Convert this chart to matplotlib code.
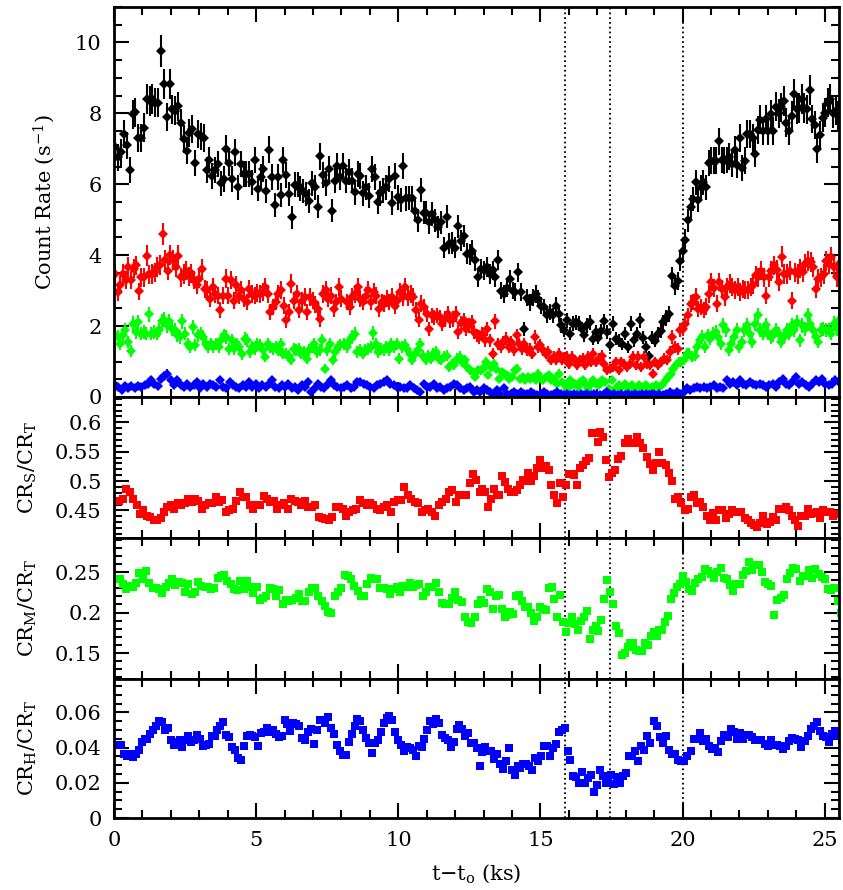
import numpy as np
import matplotlib
matplotlib.use("Agg")
import matplotlib.pyplot as plt
from matplotlib.ticker import MultipleLocator, FormatStrFormatter

plt.rcParams['font.family'] = ['DejaVu Serif']
plt.rcParams['mathtext.fontset'] = 'dejavuserif'

# count rates (s^-1)
total = [7.04, 6.76, 6.9, 7.42, 7.1, 6.41, 7.98, 8.03, 7.3, 7.3, 7.6, 8.4, 8.35, 8.4, 8.3, 8.3, 9.75, 8.83, 7.9, 8.83,
         8.12, 8.07, 8.2, 7.72, 7.28, 6.94, 7.44, 7.56, 6.6, 7.42, 7.35, 7.3, 6.4, 6.68, 6.24, 6.4, 6.57, 6.03, 6.15, 7.0,
         6.6, 6.15, 6.9, 5.92, 6.57, 6.29, 6.29, 6.29, 6.06, 6.68, 5.87, 6.2, 6.43, 5.81, 6.98, 6.2, 5.42, 6.2, 5.7, 6.68,
         6.27, 5.72, 5.07, 5.99, 5.99, 5.87, 5.81, 5.73, 5.54, 6.03, 5.92, 5.37, 6.79, 6.27, 6.03, 6.43, 5.26, 6.1, 6.52, 6.2,
         6.52, 6.1, 6.34, 6.1, 5.77, 6.29, 6.24, 5.74, 5.92, 5.68, 6.43, 6.2, 5.5, 5.74, 5.83, 5.92, 6.15, 5.47, 6.24, 5.63,
         5.56, 6.52, 5.6, 5.61, 5.6, 5.26, 4.98, 5.84, 5.2, 5.2, 4.93, 5.16, 4.98, 4.79, 4.93, 4.21, 5.09, 4.32, 4.34, 4.21,
         4.81, 4.41, 4.55, 4.04, 4.02, 4.13, 3.85, 3.38, 3.62, 3.57, 3.66, 3.47, 3.57, 3.38, 3.87, 3.0, 2.91, 3.08, 3.33, 3.0,
         2.96, 3.52, 2.96, 1.92, 2.8, 2.67, 2.8, 2.91, 2.77, 2.58, 2.54, 2.3, 2.39, 2.3, 2.58, 2.35, 2.02, 1.88, 2.16, 1.79,
         2.07, 2.11, 2.07, 1.92, 1.74, 2.02, 2.11, 1.64, 1.83,
         1.67, 1.85, 2.13, 1.83, 1.48, 2.07, 1.64, 1.59, 1.5, 1.79, 1.42, 2.07, 1.6, 1.79, 2.16, 1.67, 1.42, 1.15, 1.67, 1.59,
         1.79, 1.86, 2.11, 2.23, 2.35, 3.4, 3.14, 3.27, 3.83, 4.13, 4.43, 4.99, 5.35, 5.59, 6.06, 5.56, 5.92, 6.06, 5.92, 6.6,
         6.67, 6.67, 6.67, 7.21, 6.68, 6.67, 6.68, 6.78, 6.57, 6.97, 6.55, 7.3, 6.46, 6.67, 7.42, 7.42, 7.3, 6.86, 7.53, 7.82,
         7.5, 7.84, 7.5, 7.98, 7.5, 8.19, 8.0, 8.17, 8.35, 7.74, 7.5, 7.93, 8.54, 8.12, 8.15, 8.4, 8.15, 8.12, 8.65, 7.84,
         7.68, 6.99, 7.38, 7.88, 8.02, 8.3, 8.4, 8.0, 8.07, 7.93, 8.26]
soft = [3.46, 2.96, 3.15, 3.47, 3.3, 3.66, 3.3, 3.62, 3.71, 2.98, 3.38, 3.38, 3.99, 3.46, 3.47, 3.52, 3.66, 3.73, 4.6, 3.87,
        3.56, 4.01, 3.87, 3.66, 3.99, 3.38, 3.47, 3.56, 3.4, 3.49, 3.3, 3.15, 3.34, 3.62, 3.05, 3.01, 2.77, 3.1, 2.91, 2.86,
        2.44, 2.86, 3.34, 2.86, 3.3, 2.72, 3.15, 2.86, 3.01, 2.77, 2.68, 3.05, 2.91, 2.86, 2.93, 2.91, 2.96, 3.1, 2.91, 2.39,
        2.53, 2.68, 2.91, 3.02, 2.58, 2.16, 2.39, 3.2, 2.72, 2.91, 2.44, 2.72, 2.82, 2.39, 2.82, 2.72, 2.61, 2.48, 2.2, 2.91,
        3.01, 2.77, 2.86, 2.48, 2.68, 3.1, 2.77,
        2.68, 2.53, 2.82, 2.91, 3.1, 2.77, 2.68, 2.86, 3.01, 2.68, 2.96, 2.86, 2.48, 2.68, 2.63, 2.77, 2.68, 2.82, 2.58, 2.72,
        2.96, 2.82, 3.1, 2.82, 2.91, 2.82, 2.44, 2.18, 2.63, 2.53, 2.35, 1.92, 2.3, 2.25, 2.3, 2.25, 2.07, 2.2, 2.35, 2.16,
        2.2, 2.35, 1.83, 2.08, 2.16, 1.92, 2.02, 2.11, 1.83, 1.74, 1.69, 1.79, 1.6, 1.92, 1.6, 1.22, 2.14, 1.5, 1.42, 1.55,
        1.64, 1.42, 1.55, 1.32, 1.74, 1.5, 1.36, 1.5, 1.32, 1.36, 1.22, 1.69, 1.42, 1.46, 1.32, 1.22, 1.27, 1.05, 1.13, 1.04,
        1.22, 1.04, 1.11, 1.13, 0.94, 1.13, 1.04, 0.89, 1.04, 1.08, 0.89, 1.13, 0.99, 1.22, 0.99,
        1.08, 1.17, 0.94, 0.75, 0.8, 0.85, 0.99, 0.75, 0.99, 0.94, 0.85, 0.94, 1.13, 0.89, 1.13, 0.85, 1.13, 0.94, 0.89, 0.66,
        0.99, 0.89, 0.99, 1.08, 1.04, 1.27, 1.69, 1.42, 1.36, 1.88, 1.92, 2.07, 2.3, 2.63, 2.68, 2.82, 2.48, 2.53, 2.44, 2.55,
        2.91, 3.24, 3.08, 2.63, 3.24, 3.05, 2.82, 3.1, 3.2, 3.1, 3.01, 3.1, 2.96, 3.05, 3.01, 3.01, 3.1, 3.15, 3.43, 3.38,
        3.56, 3.38, 2.86, 3.38, 3.55, 3.71, 3.58, 3.24, 3.96, 3.47, 3.47, 3.56, 2.72, 3.52, 3.47, 3.62, 3.52, 3.75, 3.84, 3.8,
        3.66, 3.05, 3.34, 3.38, 3.47, 3.84, 3.75, 3.94, 3.66, 3.38, 3.75, 3.52]
medium = [1.74, 1.69, 1.5, 1.74, 1.88, 1.55, 1.29, 2.07, 1.83, 2.11, 1.79, 1.83, 1.79, 2.33, 1.79, 1.83, 1.79, 1.88, 2.14, 2.18,
          2.02, 2.14, 1.92, 1.88, 1.74, 1.69, 2.14, 1.79, 1.5, 1.42, 1.97, 1.46, 1.74, 1.79, 1.69, 1.5, 1.42, 1.5, 1.42, 1.5,
          1.42, 1.6, 1.74, 1.69, 1.36, 1.6, 1.36, 1.5, 1.42, 1.2, 1.64, 1.6, 1.27, 1.42, 1.36, 1.5, 1.46, 1.32, 1.13, 1.5,
          1.42, 1.36, 1.42, 1.32, 1.5, 1.22, 1.22, 1.17, 1.04, 1.36, 1.32, 1.36, 1.22, 1.27, 1.08, 1.32, 1.42, 1.5, 1.27, 1.32,
          1.6, 0.8, 1.32, 1.5, 1.04, 1.27, 1.42, 1.46,
          1.5, 1.42, 1.6, 1.69, 1.79, 1.27, 1.32, 1.22, 1.32, 1.36, 1.42, 1.81, 1.5, 1.27, 1.36, 1.32, 1.42, 1.32, 1.5, 1.42,
          1.5, 1.08, 1.42, 1.46, 1.36, 1.22, 1.04, 1.22, 1.32, 1.5, 1.17, 1.04, 1.17, 1.08, 1.22, 1.27, 1.08, 1.04, 1.13, 1.17,
          0.85, 0.94, 0.89, 1.08, 1.13, 0.99, 1.04, 0.85, 0.75, 0.71, 0.56, 0.75, 0.75, 0.8, 0.99, 0.61, 0.85, 0.94, 0.8, 0.52,
          0.71, 0.66, 0.61, 0.52, 0.56, 0.75, 0.8, 0.52, 0.56, 0.47, 0.56, 0.52, 0.56, 0.47, 0.66, 0.52, 0.47, 0.56, 0.61, 0.47,
          0.52, 0.38, 0.66, 0.42, 0.38, 0.23, 0.47, 0.33, 0.38, 0.28, 0.42, 0.47, 0.38, 0.23, 0.38, 0.47, 0.38,
          0.33, 0.47, 0.42, 0.23, 0.47, 0.23, 0.33, 0.28, 0.38, 0.23, 0.33, 0.23, 0.33, 0.28, 0.33, 0.23, 0.28, 0.33, 0.28, 0.33,
          0.47, 0.56, 0.66, 0.8, 0.89, 0.99, 0.99, 1.04, 1.22, 1.22, 1.13, 1.17, 1.42, 1.6, 1.69, 1.42, 1.74, 1.64, 1.79, 1.83,
          1.69, 1.5, 2.02, 1.88, 1.32, 1.5, 1.69, 1.88, 1.42, 1.55, 1.88, 2.02, 1.79, 1.55, 2.07, 2.3, 1.88, 1.79, 2.02, 1.79,
          1.69, 1.74, 1.88, 1.79, 1.55, 1.69, 1.88, 1.79, 2.02, 1.88, 2.11, 1.6, 2.02, 1.92, 2.3, 2.07, 1.88, 1.69, 1.55, 1.88,
          1.92, 1.88, 1.88, 1.79, 2.07, 1.92, 2.16, 2.02]
hard = [0.33, 0.28, 0.19, 0.30, 0.24, 0.30, 0.24, 0.30, 0.28, 0.33, 0.38, 0.49, 0.38, 0.30, 0.52, 0.58, 0.66, 0.47, 0.33, 0.47,
        0.33, 0.28, 0.38, 0.28, 0.33, 0.42, 0.24, 0.38, 0.28, 0.38, 0.33, 0.28, 0.47, 0.28, 0.24, 0.42, 0.33, 0.28, 0.24, 0.33,
        0.28, 0.42, 0.28, 0.38, 0.24, 0.33, 0.28, 0.38, 0.47, 0.28, 0.24, 0.33, 0.28, 0.38, 0.24, 0.28, 0.19, 0.33, 0.28, 0.42,
        0.14, 0.24, 0.38, 0.28, 0.24, 0.38, 0.47, 0.33, 0.28, 0.24, 0.28, 0.33, 0.24, 0.28, 0.42,
        0.42, 0.38, 0.33, 0.28, 0.24, 0.33, 0.38, 0.42, 0.47, 0.38, 0.33, 0.28, 0.28, 0.24, 0.24, 0.33, 0.24, 0.19, 0.14, 0.38,
        0.28, 0.28, 0.38, 0.24, 0.28, 0.19, 0.24, 0.28, 0.38, 0.33, 0.24, 0.19, 0.24, 0.28, 0.14, 0.19, 0.14, 0.24, 0.19, 0.14,
        0.09, 0.19, 0.09, 0.24, 0.09, 0.09, 0.14, 0.09, 0.14, 0.09, 0.09, 0.14, 0.09, 0.05, 0.09, 0.14, 0.09, 0.05, 0.09, 0.14,
        0.09, 0.05, 0.09, 0.05, 0.09, 0.05, 0.09, 0.05, 0.09, 0.05, 0.09, 0.05,
        0.05, 0.09, 0.14, 0.05, 0.09, 0.05, 0.09, 0.05, 0.09, 0.05, 0.09, 0.05, 0.09, 0.09, 0.05, 0.09, 0.05, 0.09, 0.05, 0.09,
        0.14, 0.09, 0.14, 0.09, 0.14, 0.24, 0.19, 0.24, 0.28, 0.24, 0.28, 0.24, 0.28, 0.33, 0.24, 0.28, 0.24,
        0.47, 0.38, 0.42, 0.33, 0.47, 0.38, 0.33, 0.42, 0.38, 0.33, 0.38, 0.33, 0.28, 0.33, 0.38, 0.28,
        0.42, 0.52, 0.38, 0.33, 0.42, 0.56, 0.38, 0.42, 0.33, 0.28, 0.38, 0.47, 0.42, 0.52, 0.38, 0.33, 0.38, 0.47, 0.42, 0.52]

# hardness ratios
ratio_s = [0.466, 0.470, 0.487, 0.482, 0.470, 0.459, 0.444, 0.450, 0.440, 0.438, 0.433, 0.434, 0.437, 0.447, 0.456, 0.459,
           0.453, 0.462, 0.459, 0.462, 0.470, 0.464, 0.470, 0.466, 0.452, 0.459, 0.462, 0.462, 0.473, 0.464, 0.467, 0.447,
           0.450, 0.453, 0.466, 0.481, 0.473, 0.473, 0.460, 0.453, 0.459, 0.460, 0.475, 0.470, 0.464, 0.466, 0.453, 0.459,
           0.462, 0.453, 0.469, 0.466, 0.464, 0.459, 0.466, 0.456, 0.456, 0.460, 0.438, 0.437, 0.436, 0.433, 0.438, 0.456,
           0.456, 0.453, 0.441, 0.447, 0.450, 0.453, 0.467, 0.462, 0.459, 0.462, 0.459, 0.453, 0.450, 0.456, 0.459, 0.447,
           0.464, 0.467, 0.467, 0.490, 0.476, 0.470, 0.464, 0.462, 0.447, 0.450, 0.453, 0.447, 0.441, 0.459, 0.464, 0.470,
           0.482, 0.485, 0.464, 0.476, 0.476, 0.477, 0.496, 0.512, 0.502, 0.482,
           0.487, 0.482, 0.456, 0.470, 0.487, 0.477, 0.477, 0.508, 0.498, 0.487, 0.482, 0.482, 0.485, 0.493, 0.502, 0.500,
           0.513, 0.500, 0.508, 0.522, 0.535, 0.522, 0.525, 0.519, 0.493, 0.477, 0.462, 0.496, 0.473, 0.494, 0.512, 0.512,
           0.511, 0.493, 0.522, 0.528, 0.534, 0.539, 0.581, 0.581, 0.567, 0.583, 0.575, 0.535, 0.506, 0.513, 0.519, 0.537,
           0.542, 0.565, 0.571, 0.564, 0.565, 0.575, 0.564, 0.557, 0.541, 0.529, 0.519, 0.531, 0.550, 0.531, 0.528, 0.513,
           0.500, 0.470, 0.473, 0.462, 0.450, 0.453, 0.473, 0.476, 0.463, 0.464, 0.456, 0.440, 0.433, 0.446, 0.434, 0.450,
           0.450, 0.437, 0.444, 0.450, 0.447, 0.448, 0.447, 0.437, 0.433, 0.429, 0.425, 0.421, 0.429, 0.441, 0.427, 0.431,
           0.438, 0.433, 0.453, 0.453, 0.456, 0.450, 0.440, 0.433, 0.424, 0.441, 0.441, 0.453, 0.444, 0.446, 0.447, 0.437,
           0.450, 0.447, 0.447, 0.441, 0.444, 0.444, 0.444]
ratio_m = [0.241, 0.235, 0.229, 0.233, 0.231, 0.237, 0.249, 0.242, 0.251, 0.237, 0.230, 0.230, 0.229, 0.224, 0.231, 0.237,
           0.241, 0.234, 0.238, 0.237, 0.225, 0.235, 0.223, 0.225, 0.238, 0.233, 0.231, 0.231, 0.229, 0.230, 0.243, 0.245,
           0.246, 0.239, 0.235, 0.229, 0.228, 0.239, 0.229, 0.239, 0.231, 0.224, 0.232, 0.216, 0.218, 0.220, 0.230, 0.229,
           0.221, 0.228, 0.210, 0.216, 0.214, 0.216, 0.218, 0.223, 0.214, 0.214, 0.225, 0.230, 0.230, 0.220, 0.214, 0.208,
           0.201, 0.200, 0.220, 0.225, 0.230, 0.246, 0.245, 0.241, 0.233, 0.227, 0.220, 0.220, 0.235, 0.243, 0.242, 0.241,
           0.230, 0.230, 0.229, 0.223, 0.229, 0.232, 0.225, 0.233, 0.232, 0.236, 0.231, 0.234, 0.235, 0.221, 0.225, 0.231,
           0.232, 0.236, 0.225, 0.212, 0.210, 0.211, 0.218, 0.225, 0.216, 0.213, 0.194, 0.188, 0.187, 0.194, 0.210,
           0.216, 0.212, 0.229, 0.225, 0.205, 0.220, 0.222, 0.205, 0.194, 0.197, 0.201, 0.198, 0.221, 0.222, 0.214, 0.207,
           0.207, 0.199, 0.190, 0.194, 0.207, 0.205, 0.203, 0.230, 0.231, 0.217, 0.194, 0.222, 0.188, 0.176, 0.187, 0.195,
           0.186, 0.179, 0.190, 0.194, 0.202, 0.167, 0.179, 0.184, 0.177, 0.191, 0.217, 0.240, 0.225, 0.210, 0.183, 0.175,
           0.148, 0.150, 0.157, 0.163, 0.163, 0.154, 0.152, 0.153, 0.162, 0.160, 0.171, 0.176, 0.171, 0.179, 0.179, 0.188,
           0.196, 0.217, 0.224, 0.232, 0.235, 0.245, 0.238, 0.229, 0.227, 0.236, 0.241, 0.244, 0.254, 0.251, 0.247, 0.243,
           0.250, 0.255, 0.243, 0.242, 0.234, 0.227, 0.235, 0.235, 0.246, 0.251, 0.262, 0.252, 0.259, 0.259, 0.250, 0.238,
           0.235, 0.233, 0.197, 0.216, 0.218, 0.222, 0.242, 0.249, 0.255, 0.254, 0.239, 0.245, 0.245, 0.252, 0.243, 0.254,
           0.247, 0.244, 0.242, 0.229, 0.228, 0.230, 0.214, 0.200]
ratio_h = [0.0417, 0.0413, 0.0366, 0.0351, 0.0366, 0.0347, 0.0366, 0.0389, 0.0430, 0.0449, 0.0449, 0.0479, 0.0498, 0.0525,
           0.0549, 0.0543, 0.0498, 0.0511, 0.0442, 0.0417, 0.0430, 0.0445, 0.0404, 0.0445, 0.0468, 0.0430, 0.0445, 0.0474,
           0.0449, 0.0411, 0.0417, 0.0423, 0.0468, 0.0464, 0.0502, 0.0525, 0.0543, 0.0474, 0.0460, 0.0404, 0.0385, 0.0341,
           0.0332, 0.0408, 0.0464, 0.0474, 0.0464, 0.0460, 0.0411, 0.0483, 0.0487, 0.0511, 0.0487, 0.0498, 0.0479, 0.0460,
           0.0468, 0.0558, 0.0536, 0.0492, 0.0540, 0.0536, 0.0521, 0.0455, 0.0442, 0.0487, 0.0506, 0.0423, 0.0502, 0.0558,
           0.0558, 0.0540, 0.0574, 0.0511, 0.0479, 0.0417, 0.0379, 0.0360, 0.0360, 0.0430, 0.0479, 0.0525, 0.0562, 0.0549,
           0.0498, 0.0455, 0.0426, 0.0370, 0.0426, 0.0442, 0.0487, 0.0540, 0.0568, 0.0581, 0.0558, 0.0487, 0.0442, 0.0417,
           0.0379, 0.0404, 0.0398, 0.0389, 0.0351, 0.0408, 0.0404, 0.0449, 0.0498, 0.0549, 0.0536, 0.0562, 0.0540, 0.0474,
           0.0455, 0.0442, 0.0404, 0.0434, 0.0506, 0.0530, 0.0506, 0.0464, 0.0483, 0.0426, 0.0426, 0.0398, 0.0294,
           0.0373, 0.0404, 0.0379, 0.0379, 0.0336, 0.0366, 0.0309, 0.0279, 0.0322, 0.0398, 0.0272, 0.0247, 0.0298, 0.0285,
           0.0309, 0.0309, 0.0298, 0.0275, 0.0341, 0.0322, 0.0355, 0.0411, 0.0408, 0.0351, 0.0398, 0.0423, 0.0487, 0.0498,
           0.0511, 0.0379, 0.0332, 0.0241, 0.0234, 0.0200, 0.0260, 0.0200, 0.0228, 0.0247, 0.0147, 0.0185, 0.0275, 0.0238,
           0.0200, 0.0215, 0.0247, 0.0196, 0.0234, 0.0200, 0.0238, 0.0253, 0.0355, 0.0355, 0.0379, 0.0322, 0.0408, 0.0389,
           0.0468, 0.0426, 0.0549, 0.0525, 0.0460, 0.0426, 0.0468, 0.0389, 0.0366, 0.0366, 0.0328, 0.0322, 0.0322, 0.0355,
           0.0379, 0.0449, 0.0449, 0.0483, 0.0436, 0.0449, 0.0408, 0.0392, 0.0398, 0.0373, 0.0436, 0.0474, 0.0460, 0.0506,
           0.0487, 0.0449, 0.0483, 0.0449, 0.0474, 0.0474, 0.0460, 0.0445, 0.0442, 0.0442, 0.0423, 0.0408, 0.0445, 0.0417,
           0.0417, 0.0408, 0.0392, 0.0408, 0.0436, 0.0455, 0.0449, 0.0445, 0.0404, 0.0436, 0.0464, 0.0506, 0.0525, 0.0543,
           0.0492, 0.0464, 0.0460, 0.0430, 0.0479, 0.0492, 0.0468, 0.0445]

# (bin index, time in ks) anchor points for each series, -1 = last bin
total_t = [(0, 0.05), (79, 7.96), (80, 8.06), (168, 16.95), (169, 17.03), (194, 19.64), (-1, 25.56)]
soft_t = [(0, 0.04), (86, 8.0), (87, 8.2), (181, 16.95), (182, 17.05), (208, 19.64), (-1, 25.6)]
medium_t = [(0, 0.04), (87, 7.96), (88, 8.1), (184, 16.95), (185, 17.05), (205, 19.4), (-1, 25.6)]
hard_t = [(0, 0.04), (74, 8.55), (75, 8.66), (146, 17.0), (147, 17.11), (172, 20.16), (-1, 25.6)]
ratio_s_t = [(0, 0.19), (105, 12.87), (106, 12.95), (148, 17.21), (149, 17.29), (-1, 25.62)]
ratio_m_t = [(0, 0.21), (110, 12.8), (111, 12.91), (154, 17.35), (180, 20.0), (-1, 25.56)]
ratio_h_t = [(0, 0.15), (124, 12.87), (125, 12.95), (153, 15.85), (175, 18.11), (-1, 25.59)]

t_lines = [15.85, 17.45, 20.0]
bin_s = 48.0


def times(vals, anchors):
    n = len(vals)
    idx = [i if i >= 0 else n - 1 for i, _ in anchors]
    tk = [t for _, t in anchors]
    return np.interp(np.arange(n), idx, tk)


fig = plt.figure(figsize=(8.43, 8.90), dpi=100)
left, width = 114 / 843, 725 / 843
ax1 = fig.add_axes([left, 1 - 397 / 890, width, 390 / 890])
ax2 = fig.add_axes([left, 1 - 538 / 890, width, 141 / 890], sharex=ax1)
ax3 = fig.add_axes([left, 1 - 679 / 890, width, 141 / 890], sharex=ax1)
ax4 = fig.add_axes([left, 1 - 818 / 890, width, 139 / 890], sharex=ax1)

for rate, anc, col in [(total, total_t, 'black'), (soft, soft_t, 'red'),
                       (medium, medium_t, '#00ff00'), (hard, hard_t, 'blue')]:
    r = np.array(rate)
    ax1.errorbar(times(rate, anc), r, yerr=np.sqrt(r / bin_s), fmt='D', ms=5,
                 color=col, ecolor=col, elinewidth=1.5, capsize=0, mew=0)

for ax, rat, anc, col in [(ax2, ratio_s, ratio_s_t, 'red'), (ax3, ratio_m, ratio_m_t, '#00ff00'),
                          (ax4, ratio_h, ratio_h_t, 'blue')]:
    ax.plot(times(rat, anc), rat, 's', ms=5.6, color=col, mew=0)

ax1.set_ylim(0, 11)
ax2.set_ylim(0.403, 0.643)
ax3.set_ylim(0.118, 0.292)
ax4.set_ylim(0, 0.079)
ax1.set_xlim(0, 25.5)

ax1.yaxis.set_major_locator(MultipleLocator(2))
ax1.yaxis.set_minor_locator(MultipleLocator(0.5))
for ax in (ax2, ax3):
    ax.yaxis.set_major_locator(MultipleLocator(0.05))
    ax.yaxis.set_minor_locator(MultipleLocator(0.01))
ax4.yaxis.set_major_locator(MultipleLocator(0.02))
ax4.yaxis.set_minor_locator(MultipleLocator(0.005))

for ax in (ax1, ax2, ax3, ax4):
    for t in t_lines:
        ax.axvline(t, color='black', ls=':', lw=1.3, zorder=0)
    ax.xaxis.set_major_locator(MultipleLocator(5))
    ax.xaxis.set_minor_locator(MultipleLocator(1))
    ax.yaxis.set_major_formatter(FormatStrFormatter('%g'))
    ax.tick_params(which='both', direction='in', top=True, right=True, width=1.5, labelsize=15, pad=9)
    ax.tick_params(which='major', length=11)
    ax.tick_params(which='minor', length=5.5)
    for s in ax.spines.values():
        s.set_linewidth(2)
    if ax is not ax4:
        ax.tick_params(labelbottom=False)

ax4.xaxis.set_major_formatter(FormatStrFormatter('%g'))

ax1.set_ylabel('Count Rate (s$^{-1}$)', fontsize=15)
ax2.set_ylabel(r'CR$_{\rm S}$/CR$_{\rm T}$', fontsize=15)
ax3.set_ylabel(r'CR$_{\rm M}$/CR$_{\rm T}$', fontsize=15)
ax4.set_ylabel(r'CR$_{\rm H}$/CR$_{\rm T}$', fontsize=15)
ax4.set_xlabel(r't$-$t$_{\rm o}$ (ks)', fontsize=15, labelpad=9)

ax1.yaxis.set_label_coords(-0.078, 0.5)
for ax in (ax2, ax3, ax4):
    ax.yaxis.set_label_coords(-0.103, 0.5)

fig.savefig('out.png', dpi=100)
